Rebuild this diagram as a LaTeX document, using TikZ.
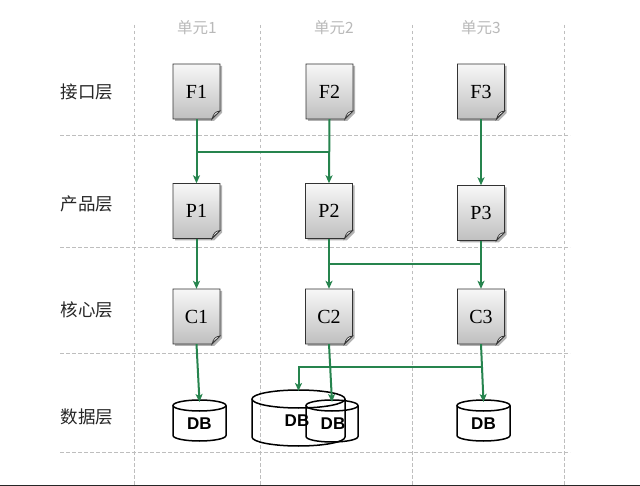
\documentclass[tikz,border=0pt]{standalone}
\usepackage{fontspec}
\setmainfont{Liberation Serif}
\newfontfamily\cjk{Noto Sans CJK SC}
\newfontfamily\dbfont{Liberation Sans}
\usetikzlibrary{arrows.meta}
\definecolor{linkgreen}{RGB}{38,132,78}
\definecolor{gridgray}{RGB}{190,190,190}
\definecolor{headgray}{RGB}{185,185,185}
\tikzset{
  grid line/.style={gridgray, line width=0.6pt, dash pattern=on 3.5pt off 2.5pt},
  layer label/.style={font=\cjk\fontsize{17.5}{17.5}\selectfont, text=black!85},
  unit label/.style={font=\cjk\fontsize{15.5}{15.5}\selectfont, text=headgray},
  docnode/.style={minimum width=47pt, minimum height=55pt, inner sep=0pt, font=\fontsize{20}{20}\selectfont},
  dbnode/.style={inner sep=0pt, font=\dbfont\bfseries\fontsize{17}{17}\selectfont},
  link/.style={linkgreen, line width=2pt},
  arrowlink/.style={link, -{Stealth[length=8pt,width=7pt,inset=2pt]}},
  cyl/.style={black, line width=1.5pt},
}
\newcommand\docbox[4]{%
  \fill[black!30] (#2-21.5,#3-25.5) -- (#2+25.5,#3-25.5) -- (#2+25.5,#3+21.5) -- (#2+17.5,#3+29.5) -- (#2-21.5,#3+29.5) -- cycle;
  \shade[top color=black!3, bottom color=black!25] (#2-23.5,#3-27.5) -- (#2+23.5,#3-27.5) -- (#2+23.5,#3+19.5) -- (#2+15.5,#3+27.5) -- (#2-23.5,#3+27.5) -- cycle;
  \draw[black!80, line width=0.8pt] (#2-23.5,#3-27.5) -- (#2+23.5,#3-27.5) -- (#2+23.5,#3+19.5) -- (#2+15.5,#3+27.5) -- (#2-23.5,#3+27.5) -- cycle;
  \filldraw[fill=white, draw=black!80, line width=0.7pt] (#2+23.5,#3+19.5) .. controls (#2+19,#3+20) and (#2+17,#3+22) .. (#2+15.5,#3+27.5) .. controls (#2+18,#3+24) and (#2+20,#3+23) .. cycle;
  \node[docnode] (#1) at (#2,#3) {#4};
}
% name, cx, top, rx, ry, bottom
\newcommand\dbcyl[6]{%
  \draw[cyl] (#2,#3+#5) ellipse [x radius=#4, y radius=#5];
  \draw[cyl] (#2-#4,#3+#5) -- (#2-#4,#6-#5) arc[start angle=180, end angle=0, x radius=#4, y radius=#5] -- (#2+#4,#3+#5);
  \coordinate (#1) at (#2,#3);
}
\begin{document}
\begin{tikzpicture}[x=1pt,y=-1pt]
\useasboundingbox (0,0) rectangle (640,486);
\fill[white] (0,0) rectangle (640,486);
% grid
\foreach \gx in {134,260,412,564} \draw[grid line] (\gx,25) -- (\gx,486);
\foreach \gy in {135,247,353,452} \draw[grid line] (60,\gy) -- (570,\gy);
\draw[black!85, line width=1.4pt] (0,485.3) -- (640,485.3);
% headers
\node[unit label] (u1) at (197,28) {单元1};
\node[unit label] (u2) at (334,28) {单元2};
\node[unit label] (u3) at (481,28) {单元3};
% layer labels
\node[layer label] (l1) at (87,92) {接口层};
\node[layer label] (l2) at (87,204) {产品层};
\node[layer label] (l3) at (87,310) {核心层};
\node[layer label] (l4) at (87,417) {数据层};
% documents
\docbox{F1}{196.5}{91.5}{F1}
\docbox{F2}{329.5}{91.5}{F2}
\docbox{F3}{481}{91.5}{F3}
\docbox{P1}{196.5}{211}{P1}
\docbox{P2}{329}{211}{P2}
\docbox{P3}{481}{213}{P3}
\docbox{C1}{196.5}{316.5}{C1}
\docbox{C2}{329}{316.5}{C2}
\docbox{C3}{481}{316.5}{C3}
% databases
\dbcyl{db1}{199.5}{400}{26.5}{5.5}{441}
\dbcyl{dbbig}{298.5}{390}{46.5}{9}{446}
\dbcyl{db2}{332}{400}{26}{5.5}{442}
\dbcyl{db3}{483.5}{400}{26.5}{5.5}{441}
\node[dbnode] (t1) at (199.5,424) {DB};
\node[dbnode] (tb) at (297,421) {DB};
\node[dbnode] (t2) at (333,424) {DB};
\node[dbnode] (t3) at (483.5,424) {DB};
% connectors
\coordinate (j1) at (196.5,152);
\coordinate (j2) at (329.5,152);
\coordinate (k1) at (329,264);
\coordinate (k2) at (481,264);
\coordinate (m1) at (481.5,367);
\coordinate (m2) at (298.5,367);
\draw[arrowlink] (F1.south) -- (P1.north);
\draw[arrowlink] (F2.south) -- (P2.north);
\draw[arrowlink] (F3.south) -- (P3.north);
\draw[link] (j1) -- (j2);
\draw[arrowlink] (P1.south) -- (C1.north);
\draw[arrowlink] (P2.south) -- (C2.north);
\draw[arrowlink] (P3.south) -- (C3.north);
\draw[link] (k1) -- (k2);
\draw[arrowlink] (C1.south) -- ([yshift=-2pt]db1);
\draw[arrowlink] (C2.south) -- ([yshift=-2pt]db2);
\draw[arrowlink] (C3.south) -- ([yshift=-2pt]db3);
\draw[arrowlink] (m1) -- (m2) -- ([yshift=-1pt]dbbig);
\end{tikzpicture}
\end{document}
